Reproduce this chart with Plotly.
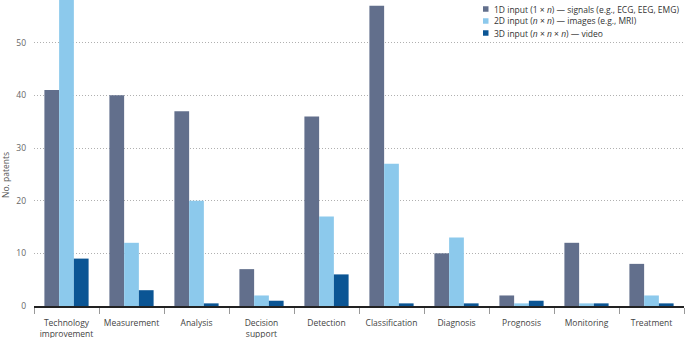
import plotly.graph_objects as go

categories = ["Technology<br>improvement", "Measurement", "Analysis", "Decision<br>support",
              "Detection", "Classification", "Diagnosis", "Prognosis", "Monitoring", "Treatment"]
series_names = ["1D input (1 × <i>n</i>) — signals (e.g., ECG, EEG, EMG)",
                "2D input (<i>n</i> × <i>n</i>) — images (e.g., MRI)",
                "3D input (<i>n</i> × <i>n</i> × <i>n</i>) — video"]
vals_1d = [41, 40, 37, 7, 36, 57, 10, 2, 12, 8]
vals_2d = [62, 12, 20, 2, 17, 27, 13, 0.5, 0.5, 2]
vals_3d = [9, 3, 0.5, 1, 6, 0.5, 0.5, 1, 0.5, 0.5]
colors = ["#626f8c", "#8cc9ec", "#0b5594"]
y_ticks = [0, 10, 20, 30, 40, 50]
y_title = "No. patents"

font = "Open Sans, Arial, sans-serif"
fig = go.Figure()
for name, vals, c in zip(series_names, [vals_1d, vals_2d, vals_3d], colors):
    fig.add_trace(go.Bar(x=categories, y=vals, name=name, marker_color=c,
                         marker_line_width=0, showlegend=False))

W, H = 685, 338
ml, mr, mt, mb = 34, 1, 0, 32
pw, ph = W - ml - mr, H - mt - mb

def px_x(p):
    return (p - ml) / pw

def px_y(p):
    return 1 - (p - mt) / ph

# manual compact legend (paper coordinates)
leg_x_px, leg_y0_px, leg_dy_px, sq = 483, 9, 12, 5.5
for i, (name, c) in enumerate(zip(series_names, colors)):
    yc = leg_y0_px + i * leg_dy_px
    fig.add_shape(type="rect", xref="paper", yref="paper",
                  x0=px_x(leg_x_px), x1=px_x(leg_x_px + sq),
                  y0=px_y(yc - sq / 2), y1=px_y(yc + sq / 2),
                  fillcolor=c, line_width=0)
    fig.add_annotation(xref="paper", yref="paper", x=px_x(leg_x_px + sq + 3),
                       y=px_y(yc), text=name, showarrow=False,
                       xanchor="left", yanchor="middle",
                       font=dict(size=8.5, color="#333333"))

fig.add_annotation(xref="paper", yref="paper", x=px_x(5), y=px_y(175), text=y_title,
                   textangle=-90, showarrow=False, xanchor="center", yanchor="middle",
                   font=dict(size=8.5, color="#555555"))

fig.update_layout(
    width=W, height=H,
    margin=dict(l=ml, r=mr, t=mt, b=mb),
    barmode="group", bargap=0.32, bargroupgap=0,
    plot_bgcolor="white", paper_bgcolor="white",
    font=dict(family=font, color="#333333", size=9),
    showlegend=False,
)
fig.update_xaxes(showline=True, linecolor="#222222", linewidth=1.5,
                 ticks="outside", tickson="boundaries", ticklen=6, tickcolor="#999999",
                 tickangle=0, automargin=False, ticklabelstandoff=8,
                 tickfont=dict(size=8.5, color="#444444"), showgrid=False)
fig.update_yaxes(range=[0, 58.1], tickvals=y_ticks, showgrid=True, gridcolor="#b0b0b0",
                 griddash="1px,2px", gridwidth=1, zeroline=False, showline=False,
                 automargin=False, ticklabelstandoff=7,
                 tickfont=dict(size=8.5, color="#666666"))

fig.write_html("out.html")
